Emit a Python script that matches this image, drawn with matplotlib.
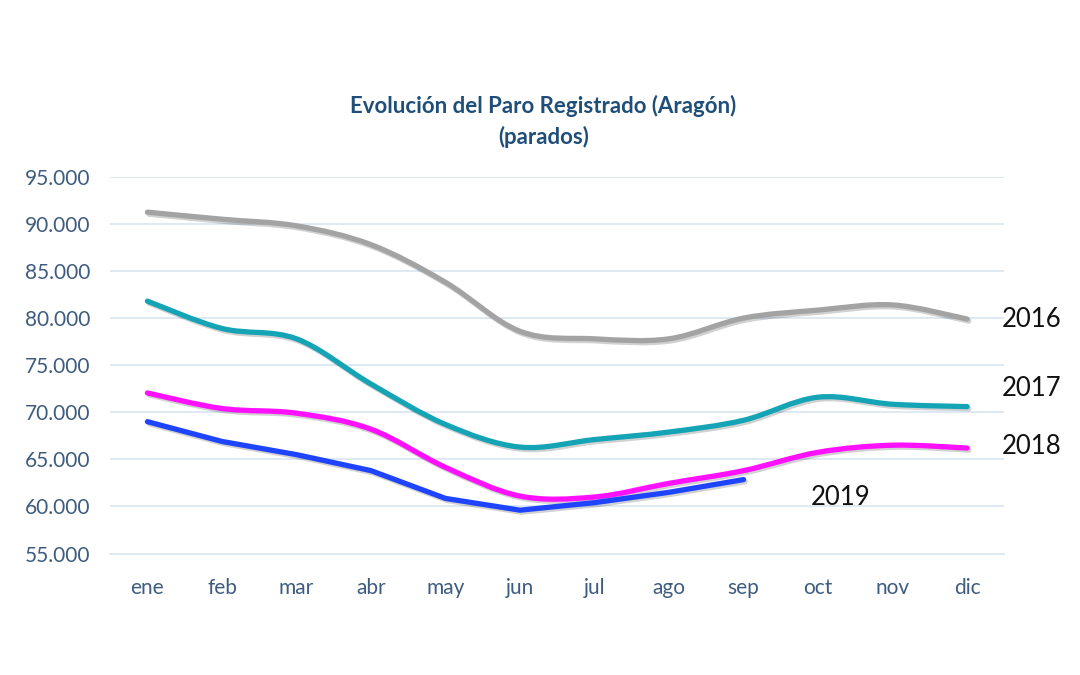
import matplotlib
matplotlib.use("Agg")
import matplotlib.pyplot as plt
import matplotlib.patheffects as pe
from matplotlib.path import Path
from matplotlib.patches import PathPatch
import numpy as np

plt.rcParams['font.family'] = ['Lato', 'DejaVu Sans']

# Paro registrado en Aragón (parados)
meses = ['ene', 'feb', 'mar', 'abr', 'may', 'jun', 'jul', 'ago', 'sep', 'oct', 'nov', 'dic']
paro_2016 = [91250, 90500, 89800, 87800, 83800, 78600, 77800, 77800, 80000, 80850, 81400, 79900]
paro_2017 = [81800, 78900, 77800, 73000, 68700, 66300, 67100, 67900, 69150, 71600, 70850, 70600]
paro_2018 = [72050, 70400, 69900, 68200, 64150, 61100, 61000, 62450, 63800, 65750, 66500, 66200]
paro_2019 = [69000, 66900, 65500, 63800, 60850, 59600, 60400, 61500, 62850]

series = [
    ('2016', paro_2016, '#a3a3a3', True),
    ('2017', paro_2017, '#15a3b6', True),
    ('2018', paro_2018, '#ff10ff', True),
    ('2019', paro_2019, '#1f44ff', False),
]

# posición de las etiquetas de año (x en índice de mes, y en parados)
etiquetas = {'2016': (11.47, 79900), '2017': (11.47, 72550), '2018': (11.47, 66400), '2019': (8.9, 61000)}

BLUE_TXT = '#3e5c80'
GRID = '#dbe7f3'


def smooth_path(x, y):
    """Curva tipo Catmull-Rom con beziers cúbicos (suavizado estilo Excel)."""
    pts = np.column_stack([x, y]).astype(float)
    n = len(pts)
    verts = [pts[0]]
    codes = [Path.MOVETO]
    for i in range(n - 1):
        p0 = pts[i - 1] if i > 0 else pts[i]
        p1 = pts[i]
        p2 = pts[i + 1]
        p3 = pts[i + 2] if i + 2 < n else pts[i + 1]
        c1 = p1 + (p2 - p0) / 6.0
        c2 = p2 - (p3 - p1) / 6.0
        verts += [c1, c2, p2]
        codes += [Path.CURVE4] * 3
    return Path(verts, codes)


fig = plt.figure(figsize=(10.8, 6.75), dpi=100)
ax = fig.add_axes([0.102, 0.18, 0.828, 0.558])

for name, vals, color, smooth in series:
    x = np.arange(len(vals))
    if smooth:
        patch = PathPatch(smooth_path(x, vals), facecolor='none', edgecolor=color,
                          lw=3.8, capstyle='round', joinstyle='round', zorder=3)
    else:
        patch = PathPatch(Path(np.column_stack([x, vals])), facecolor='none', edgecolor=color,
                          lw=3.8, capstyle='round', joinstyle='round', zorder=3)
    patch.set_path_effects([pe.SimpleLineShadow(offset=(1.2, -1.5), shadow_color='#000000', alpha=0.18),
                            pe.Normal()])
    ax.add_patch(patch)
    tx, ty = etiquetas[name]
    ax.text(tx, ty, name, fontsize=18.5, color='#111111', va='center', ha='left', clip_on=False)

ax.set_xlim(-0.5, 11.5)
ax.set_ylim(55000, 95000)
ax.set_xticks(range(len(meses)))
ax.set_xticklabels(meses)
yt = np.arange(55000, 95001, 5000)
ax.set_yticks(yt)
ax.set_yticklabels([f'{v:,}'.replace(',', '.') for v in yt])

ax.grid(axis='y', color=GRID, lw=1.3)
ax.set_axisbelow(True)
for s in ['top', 'right', 'left']:
    ax.spines[s].set_visible(False)
ax.spines['bottom'].set_color(GRID)
ax.spines['bottom'].set_linewidth(1.3)
ax.tick_params(axis='both', length=0, labelsize=15, colors=BLUE_TXT)
ax.tick_params(axis='x', pad=18)
ax.tick_params(axis='y', pad=14)

fig.text(0.503, 0.82, 'Evolución del Paro Registrado (Aragón)\n(parados)', ha='center', va='center',
         fontsize=16, fontweight='bold', color='#1f4e79', linespacing=1.45)

fig.savefig('out.png', dpi=100, facecolor='white')
